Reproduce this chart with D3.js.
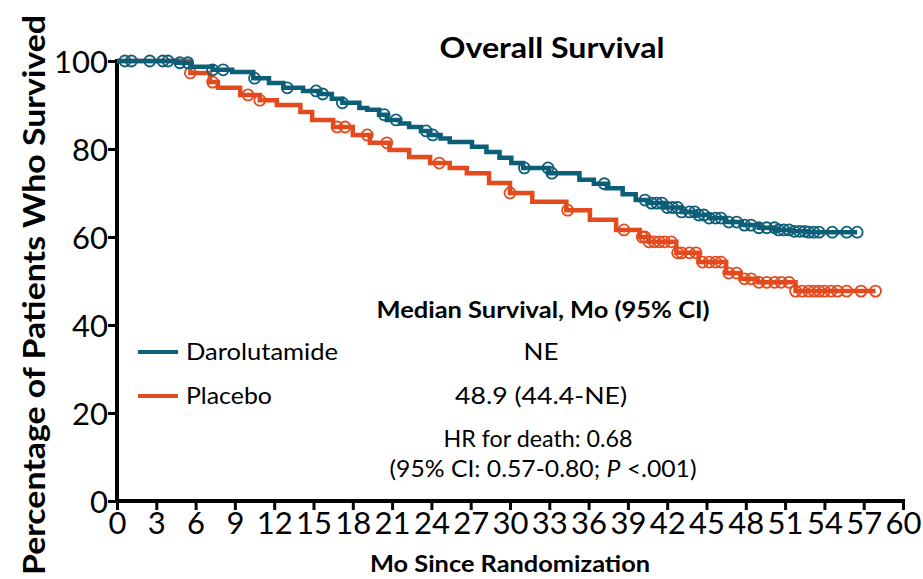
<!DOCTYPE html>
<html><head><meta charset="utf-8">
<script src="https://cdn.jsdelivr.net/npm/d3@7"></script>
<style>html,body{margin:0;padding:0;background:#fff;}svg{display:block;font-family:Lato,"Open Sans",sans-serif;}</style>
</head><body>
<svg id="c" width="923" height="579"></svg>
<script>
// ---- data ----
const xTicks = [0,3,6,9,12,15,18,21,24,27,30,33,36,39,42,45,48,51,54,57,60];
const yTicks = [0,20,40,60,80,100];
const seriesNames = ["Darolutamide","Placebo"];
const medianLabels = ["NE","48.9 (44.4-NE)"];

const daroTimes = [0,4.6,5.6,7.3,8.8,10.4,11.6,12.7,14.2,15.5,16.4,17.2,18.5,19.1,20.0,20.6,21.6,22.3,23.2,23.9,24.7,25.4,27.1,28.2,29.2,30.1,31.0,33.0,35.3,36.4,37.4,38.6,39.6,40.6,41.8,43.1,44.2,45.2,46.5,47.7,49.0,50.3,51.5,52.6,56.5];
const daroSurv  = [100,99.6,98.7,98.0,97.5,96.1,95.0,93.9,93.2,92.5,91.4,90.5,89.3,88.9,87.8,86.6,85.8,85.0,84.1,83.2,82.4,81.6,80.5,79.3,78.0,76.8,75.7,74.5,73.0,72.1,71.1,69.7,68.4,67.7,66.7,65.7,65.0,64.3,63.4,62.7,62.1,61.6,61.3,61.1,61.1];
const daroCensor = [0.6,1.1,2.5,3.5,3.9,4.8,5.4,7.3,8.1,10.5,13.0,15.2,15.7,17.2,20.4,21.3,23.6,24.1,31.1,32.9,33.2,37.2,40.3,40.8,41.2,41.6,42.0,42.4,42.8,43.1,43.7,44.1,44.4,44.8,45.2,45.7,46.1,46.7,47.3,47.9,48.4,49.0,49.6,50.2,50.5,50.9,51.3,51.7,52.1,52.5,52.8,53.2,53.6,54.6,55.7,56.5];

const placTimes = [0,5.6,7.1,7.7,9.4,10.9,12.2,14.0,14.9,16.5,18.0,19.3,20.8,22.3,23.9,25.4,26.7,28.4,30.0,31.7,34.3,36.1,38.1,39.9,40.6,42.7,44.4,46.5,47.6,48.9,51.8,57.9];
const placSurv  = [100,97.3,95.2,93.9,92.3,91.1,90.0,88.4,86.6,85.0,83.2,81.4,79.8,78.2,76.8,75.7,74.5,72.3,70.0,68.0,66.1,63.9,61.6,60.0,58.9,56.4,54.3,51.8,50.5,49.7,47.7,47.7];
const placCensor = [5.6,7.3,10.0,10.9,16.8,17.4,19.1,20.6,24.6,30.0,34.4,38.7,40.1,40.3,40.6,41.0,41.4,41.8,42.3,42.8,43.1,43.7,44.2,44.7,45.2,45.7,46.1,46.7,47.3,47.9,48.4,49.0,49.6,50.2,50.7,51.3,51.8,52.3,52.8,53.2,53.6,54.0,54.5,55.0,55.7,56.8,57.9];

// ---- drawing ----
const svg = d3.select("#c");
const teal = "#0d5e77", orange = "#e34a1d";
const x = d3.scaleLinear().domain([0,60]).range([117,903]);
const y = d3.scaleLinear().domain([0,100]).range([501,61]);

function stepVal(times, surv, t){
  const i = d3.bisectRight(times, t) - 1;
  return surv[Math.max(0,i)];
}

// axes
const xAxis = d3.axisBottom(x).tickValues(xTicks).tickSize(9).tickSizeOuter(0).tickFormat(d3.format("d"));
const gx = svg.append("g").attr("transform","translate(0,501)").call(xAxis);
gx.select(".domain").attr("stroke","#000").attr("stroke-width",4).attr("d","M115,0H905");
gx.selectAll(".tick line").attr("stroke","#000").attr("stroke-width",3);
gx.selectAll(".tick text").attr("fill","#000").attr("font-size",31).attr("font-family","Lato").attr("dy","0.78em").attr("y",9);

const yAxis = d3.axisLeft(y).tickValues(yTicks).tickSize(9).tickSizeOuter(0);
const gy = svg.append("g").attr("transform","translate(117,0)").call(yAxis);
gy.select(".domain").attr("stroke","#000").attr("stroke-width",4).attr("d","M0,59V503");
gy.selectAll(".tick line").attr("stroke","#000").attr("stroke-width",3);
gy.selectAll(".tick text").attr("fill","#000").attr("font-size",31).attr("font-family","Lato").attr("x",-9).attr("dy","0.36em");

// curves
const line = d3.line().x(d=>x(d[0])).y(d=>y(d[1])).curve(d3.curveStepAfter);
function drawSeries(times, surv, cens, col){
  const pts = times.map((t,i)=>[t,surv[i]]);
  svg.append("path").attr("d", line(pts)).attr("fill","none").attr("stroke",col).attr("stroke-width",4.5).attr("stroke-linejoin","miter");
  svg.append("g").selectAll("circle").data(cens).join("circle")
    .attr("cx",d=>x(d)).attr("cy",d=>y(stepVal(times,surv,d)))
    .attr("r",5.5).attr("fill","none").attr("stroke",col).attr("stroke-width",1.8);
}
drawSeries(placTimes, placSurv, placCensor, orange);
drawSeries(daroTimes, daroSurv, daroCensor, teal);

function txt(xp, yp, s, size, opts={}){
  const t = svg.append("text").attr("x",xp).attr("y",yp).attr("font-size",size).text(s);
  if (opts.anchor) t.attr("text-anchor",opts.anchor);
  if (opts.bold) t.attr("font-weight","bold");
  if (opts.len) t.attr("textLength",opts.len).attr("lengthAdjust","spacingAndGlyphs");
  return t;
}
// titles
txt(552, 58, "Overall Survival", 29, {anchor:"middle", bold:true, len:225});
svg.append("text").attr("transform","translate(45,295) rotate(-90)").attr("text-anchor","middle").attr("font-weight","bold").attr("font-size",31)
  .attr("textLength",560).attr("lengthAdjust","spacingAndGlyphs").text("Percentage of Patients Who Survived");
txt(510, 572, "Mo Since Randomization", 23, {anchor:"middle", bold:true, len:280});
txt(62, 590, "Risk", 16, {bold:true});

// legend & stats
const cols = [teal, orange];
const legY = [352, 396];
const nameLen = [152, 86];
const medLen = [35, 172];
seriesNames.forEach((n,i)=>{
  svg.append("line").attr("x1",138).attr("x2",178).attr("y1",legY[i]).attr("y2",legY[i]).attr("stroke",cols[i]).attr("stroke-width",4);
  txt(186, legY[i]+8, n, 23, {len:nameLen[i]});
  txt(541, legY[i]+8, medianLabels[i], 23, {anchor:"middle", len:medLen[i]});
});
txt(543, 318, "Median Survival, Mo (95% CI)", 23, {anchor:"middle", bold:true, len:333});
txt(538, 447, "HR for death: 0.68", 23, {anchor:"middle", len:189});
const t5 = svg.append("text").attr("x",543).attr("y",477).attr("text-anchor","middle").attr("font-size",23)
  .attr("textLength",307).attr("lengthAdjust","spacingAndGlyphs");
t5.append("tspan").text("(95% CI: 0.57-0.80; ");
t5.append("tspan").attr("font-style","italic").text("P");
t5.append("tspan").text(" <.001)");
</script>
</body></html>
